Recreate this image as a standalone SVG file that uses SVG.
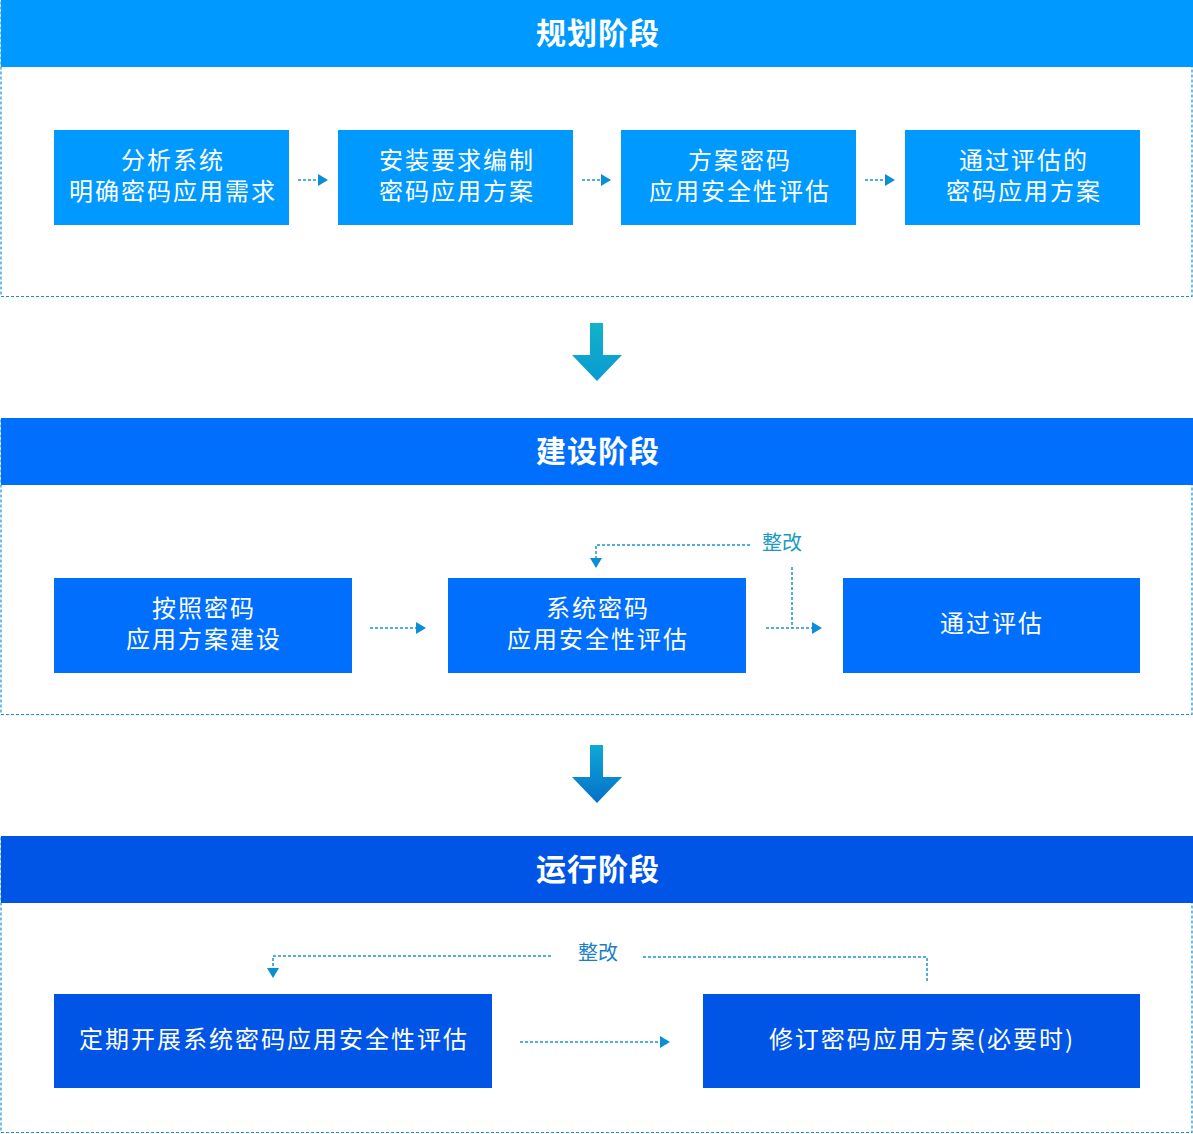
<svg xmlns="http://www.w3.org/2000/svg" width="1193" height="1134" viewBox="0 0 1193 1134">
<defs>
<style>
.frame{fill:#fff;stroke:#1a8fd8;stroke-width:1.2;stroke-dasharray:3 2}
.t{font-family:"Noto Sans CJK SC","Noto Sans",sans-serif;fill:#fff;font-size:24px;letter-spacing:2px;text-anchor:middle}
.h{font-family:"Noto Sans CJK SC","Noto Sans",sans-serif;fill:#fff;font-size:30px;letter-spacing:1px;font-weight:bold;text-anchor:middle}
.lbl{font-family:"Noto Sans CJK SC","Noto Sans",sans-serif;font-size:20px;text-anchor:middle}
.c{fill:none;stroke:#1a92d6;stroke-width:1.5;stroke-dasharray:3 2}
.b1{fill:#0099ff}
.b2{fill:#006ffe}
.b3{fill:#0055e6}
</style>
<marker id="ah" viewBox="0 0 10 12" refX="9" refY="6" markerWidth="10" markerHeight="12" markerUnits="userSpaceOnUse" orient="auto">
<path d="M0,0 L10,6 L0,12 Z" fill="#0a8fd6"/>
</marker>
<linearGradient id="g1" x1="0" y1="0" x2="0" y2="1">
<stop offset="0" stop-color="#12b2c8"/>
<stop offset="1" stop-color="#0a9ad2"/>
</linearGradient>
<linearGradient id="g2" x1="0" y1="0" x2="0" y2="1">
<stop offset="0" stop-color="#10a8d6"/>
<stop offset="1" stop-color="#0470c8"/>
</linearGradient>
</defs>

<g id="stage1">
<rect class="frame" x="1" y="0.5" width="1191" height="296"/>
<rect class="b1" x="1" y="0" width="1192" height="67"/>
<text class="h" x="598" y="44">规划阶段</text>
</g>
<g id="n1"><rect class="b1" x="54" y="130" width="235" height="95"/><text class="t" x="173" y="169">分析系统</text><text class="t" x="173" y="200">明确密码应用需求</text></g>
<g id="n2"><rect class="b1" x="338" y="130" width="235" height="95"/><text class="t" x="457" y="169">安装要求编制</text><text class="t" x="457" y="200">密码应用方案</text></g>
<g id="n3"><rect class="b1" x="621" y="130" width="235" height="95"/><text class="t" x="740" y="169">方案密码</text><text class="t" x="740" y="200">应用安全性评估</text></g>
<g id="n4"><rect class="b1" x="905" y="130" width="235" height="95"/><text class="t" x="1024" y="169">通过评估的</text><text class="t" x="1024" y="200">密码应用方案</text></g>

<g id="stage2">
<rect class="frame" x="1" y="418.5" width="1191" height="296"/>
<rect class="b2" x="1" y="418" width="1192" height="67"/>
<text class="h" x="598" y="462">建设阶段</text>
</g>
<g id="n5"><rect class="b2" x="54" y="578" width="298" height="95"/><text class="t" x="204" y="617">按照密码</text><text class="t" x="204" y="648">应用方案建设</text></g>
<g id="n6"><rect class="b2" x="448" y="578" width="298" height="95"/><text class="t" x="598" y="617">系统密码</text><text class="t" x="598" y="648">应用安全性评估</text></g>
<g id="n7"><rect class="b2" x="843" y="578" width="297" height="95"/><text class="t" x="992" y="632">通过评估</text></g>

<g id="stage3">
<rect class="frame" x="1" y="836.5" width="1191" height="296"/>
<rect class="b3" x="1" y="836" width="1192" height="67"/>
<text class="h" x="598" y="880">运行阶段</text>
</g>
<g id="n8"><rect class="b3" x="54" y="994" width="438" height="94"/><text class="t" x="274" y="1048">定期开展系统密码应用安全性评估</text></g>
<g id="n9"><rect class="b3" x="703" y="994" width="437" height="94"/><text class="t" x="922" y="1048">修订密码应用方案(必要时)</text></g>

<g id="connectors">
<path class="c" d="M298,180 H327" marker-end="url(#ah)"/>
<path class="c" d="M582,180 H610" marker-end="url(#ah)"/>
<path class="c" d="M865,180 H894" marker-end="url(#ah)"/>
<path d="M590,323 H603 V355 H622 L597,381 L572,355 H590 Z" fill="url(#g1)"/>
<path d="M590,745 H603 V777 H622 L597,803 L572,777 H590 Z" fill="url(#g2)"/>
<path class="c" d="M370,628 H425" marker-end="url(#ah)"/>
<path class="c" d="M766,628 H821" marker-end="url(#ah)"/>
<path class="c" d="M750,545 H596 V567" marker-end="url(#ah)"/>
<path class="c" d="M792,567 V628"/>
<text class="lbl" x="782" y="550" fill="#1a9ac4">整改</text>
<path class="c" d="M520,1042 H669" marker-end="url(#ah)"/>
<path class="c" d="M551,956 H273 V977" marker-end="url(#ah)"/>
<path class="c" d="M643,957 H927 V981"/>
<text class="lbl" x="598" y="960" fill="#1a7fc6">整改</text>
</g>
</svg>
